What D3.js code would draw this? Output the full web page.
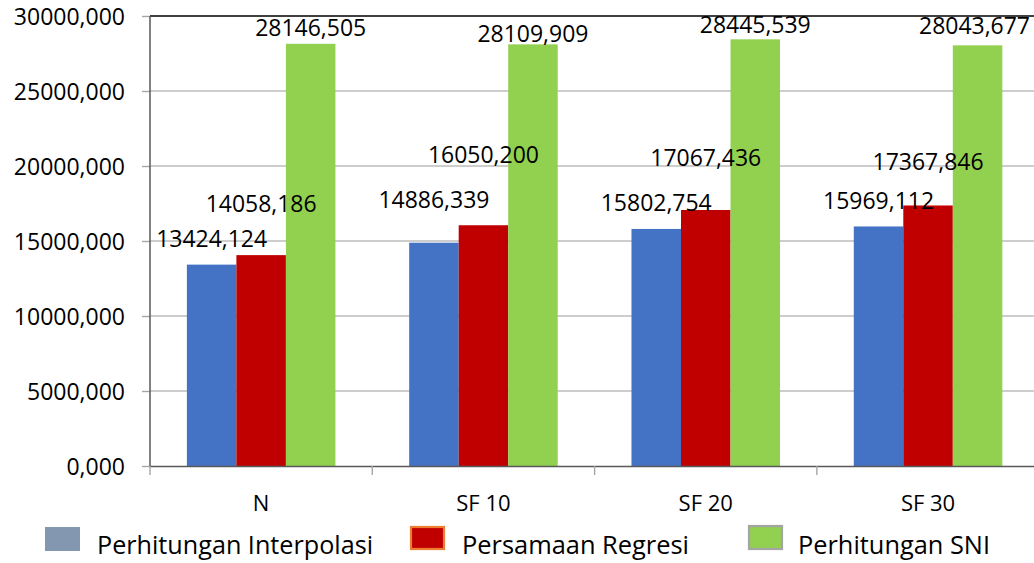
<!DOCTYPE html>
<html>
<head>
<meta charset="utf-8">
<script src="https://cdn.jsdelivr.net/npm/d3@7/dist/d3.min.js"></script>
<style>
  html, body { margin: 0; padding: 0; background: #fff; overflow: hidden; }
  svg { display: block; }
  text { font-family: "Open Sans", sans-serif; fill: #000; }
</style>
</head>
<body>
<svg id="chart" width="1034" height="563"></svg>
<script>
// ---- data ----
const categories = ["N", "SF 10", "SF 20", "SF 30"];
const seriesNames = ["Perhitungan Interpolasi", "Persamaan Regresi", "Perhitungan SNI"];
const interpolasi = [13424.124, 14886.339, 15802.754, 15969.112];
const regresi     = [14058.186, 16050.200, 17067.436, 17367.846];
const sni         = [28146.505, 28109.909, 28445.539, 28043.677];
const yTicks = [0, 5000, 10000, 15000, 20000, 25000, 30000];

// ---- style / layout ----
const barColors = ["#4472C4", "#C00000", "#92D050"];
const legendFill = ["#8497B0", "#C00000", "#92D050"];
const legendStroke = [null, "#ED7D31", "#A5A5A5"];
// label lift (px above bar top), per series, per category (avoid overlap like source)
const labelLift = [
  [17.6, 34.4, 18, 17.5],
  [43, 62, 44, 35.5],
  [8, 2.7, 6, 11]
];

(function () {
const seriesValues = [interpolasi, regresi, sni];
const svg = d3.select("#chart");
const W = 1034;
const pLeft = 150, pRight = 1039.2, pTop = 16, pBottom = 466;
const labelW = 111;

const x = d3.scaleBand().domain(categories).range([pLeft, pRight]).padding(0);
const xs = d3.scaleBand().domain(d3.range(seriesNames.length))
  .range([0, x.bandwidth()]).paddingInner(0).paddingOuter(0.745);
const y = d3.scaleLinear().domain([0, 30000]).range([pBottom, pTop]);

const fmt = v => d3.format(".3f")(v).replace(".", ",");

// gridlines
svg.append("g").selectAll("line").data(yTicks.filter(t => t > 0)).join("line")
  .attr("x1", pLeft).attr("x2", W)
  .attr("y1", d => y(d)).attr("y2", d => y(d))
  .attr("stroke", d => d === 30000 ? "#000" : "#BDBDBD")
  .attr("stroke-width", d => d === 30000 ? 1.6 : 1.4);

// y axis ticks + labels
const yAxis = d3.axisLeft(y).tickValues(yTicks).tickSize(8).tickFormat(fmt);
const gy = svg.append("g").attr("transform", `translate(${pLeft},0)`).call(yAxis);
gy.select(".domain").remove();
gy.selectAll(".tick line").attr("stroke", "#A6A6A6").attr("stroke-width", 1.4);
gy.selectAll(".tick text").attr("x", -25).attr("dy", "0.36em")
  .style("font-size", "23px").style("font-family", "Open Sans").attr("fill", "#000");

// bars
seriesValues.forEach((vals, si) => {
  svg.append("g").selectAll("rect").data(vals).join("rect")
    .attr("x", (d, i) => x(categories[i]) + xs(si))
    .attr("width", xs.bandwidth())
    .attr("y", d => y(d))
    .attr("height", d => y(0) - y(d))
    .attr("fill", barColors[si]);
});

// axes lines
svg.append("line").attr("x1", pLeft).attr("x2", pLeft).attr("y1", pTop).attr("y2", pBottom)
  .attr("stroke", "#595959").attr("stroke-width", 1.5);
const xAxis = d3.axisBottom(x).tickSize(0).tickFormat(d => d);
const gx = svg.append("g").attr("transform", `translate(0,${pBottom})`).call(xAxis);
gx.select(".domain").attr("stroke", "#595959").attr("stroke-width", 1.5)
  .attr("d", `M${pLeft},0.5H${W}`);
gx.selectAll(".tick text").attr("y", 45).attr("dy", 0)
  .style("font-size", "22px").style("font-family", "Open Sans").attr("fill", "#000");
// category boundary ticks
svg.append("g").selectAll("line").data(categories).join("line")
  .attr("x1", d => x(d)).attr("x2", d => x(d))
  .attr("y1", pBottom).attr("y2", pBottom + 9)
  .attr("stroke", "#A6A6A6").attr("stroke-width", 1.4);

// value labels (kept inside the visible area)
seriesValues.forEach((vals, si) => {
  svg.append("g").selectAll("text").data(vals).join("text")
    .attr("x", (d, i) => Math.min(x(categories[i]) + xs(si) + xs.bandwidth() / 2, W - 4 - labelW / 2))
    .attr("y", (d, i) => y(d) - labelLift[si][i])
    .attr("text-anchor", "middle")
    .attr("textLength", labelW).attr("lengthAdjust", "spacingAndGlyphs")
    .style("font-size", "23.5px")
    .text(d => fmt(d));
});

// legend
const legendX = [45, 410, 748];
const legendTextX = [97, 462, 798];
const legendTextW = [276, 227, 192];
const legendSwatchY = [527, 526, 525];
const legendSwatchH = [24, 24, 25];
const lg = svg.append("g");
seriesNames.forEach((name, i) => {
  const r = lg.append("rect")
    .attr("x", legendX[i] + (legendStroke[i] ? 1 : 0))
    .attr("y", legendSwatchY[i] + (legendStroke[i] ? 1 : 0))
    .attr("width", 35 - (legendStroke[i] ? 2 : 0))
    .attr("height", legendSwatchH[i] - (legendStroke[i] ? 2 : 0))
    .attr("fill", legendFill[i]);
  if (legendStroke[i]) r.attr("stroke", legendStroke[i]).attr("stroke-width", 2.2);
  lg.append("text").attr("x", legendTextX[i]).attr("y", 554)
    .attr("textLength", legendTextW[i]).attr("lengthAdjust", "spacingAndGlyphs")
    .style("font-size", "25px").text(name);
});
})();
</script>
</body>
</html>
